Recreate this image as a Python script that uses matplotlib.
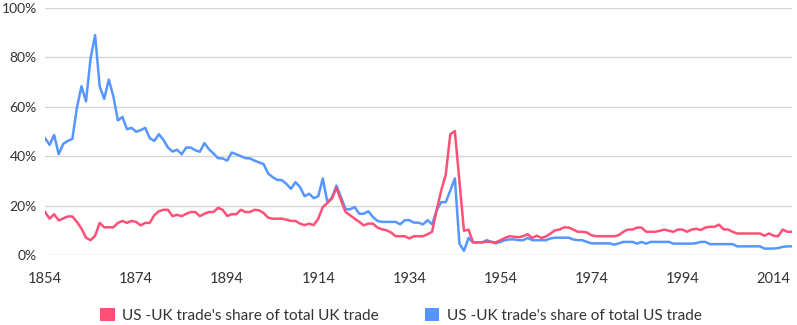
import matplotlib
matplotlib.use("Agg")
import matplotlib.pyplot as plt
from matplotlib.patches import Patch
import numpy as np

years = np.arange(1854, 2019)

# US-UK trade's share of total UK trade (%)
uk_share = [
    17.4, 14.7, 16.5, 14.0, 14.8, 15.6, 15.6, 13.4, 10.7, 7.0,   # 1854-1863
    6.0, 7.8, 13.0, 11.2, 11.2, 11.2, 13.0, 13.8, 13.0, 13.8,    # 1864-1873
    13.4, 12.0, 13.0, 13.0, 16.1, 17.7, 18.3, 18.3, 15.7, 16.3,  # 1874-1883
    15.7, 16.7, 17.4, 17.4, 15.7, 16.7, 17.4, 17.4, 19.1, 18.3,  # 1884-1893
    15.8, 16.5, 16.5, 18.3, 17.4, 17.4, 18.3, 18.1, 17.0, 15.1,  # 1894-1903
    14.7, 14.7, 14.7, 14.3, 13.8, 13.8, 12.7, 12.1, 12.7, 12.1,  # 1904-1913
    14.7, 19.4, 21.0, 22.8, 27.2, 22.1, 17.4, 16.1, 14.7, 13.4,  # 1914-1923
    12.0, 12.7, 12.7, 11.1, 10.4, 10.0, 9.1, 7.6, 7.6, 7.6,      # 1924-1933
    6.7, 7.6, 7.6, 7.6, 8.4, 9.4, 18.1, 26.1, 32.5, 48.9,        # 1934-1943
    50.2, 30.0, 9.8, 10.3, 5.1, 5.1, 5.1, 5.4, 5.3, 5.1,         # 1944-1953
    6.0, 6.9, 7.6, 7.4, 7.2, 7.6, 8.4, 6.9, 7.8, 6.9,            # 1954-1963
    7.5, 8.7, 10.0, 10.3, 11.2, 11.1, 10.3, 9.4, 9.4, 9.1,       # 1964-1973
    8.0, 7.6, 7.6, 7.6, 7.6, 7.6, 8.0, 9.4, 10.3, 10.3,          # 1974-1983
    11.1, 11.1, 9.4, 9.4, 9.4, 9.8, 10.3, 9.8, 9.4, 10.3,        # 1984-1993
    10.3, 9.4, 10.3, 10.6, 10.1, 11.1, 11.4, 11.4, 12.3, 10.4,   # 1994-2003
    10.3, 9.4, 8.7, 8.7, 8.7, 8.7, 8.7, 8.7, 7.8, 8.7,           # 2004-2013
    7.8, 7.6, 10.3, 9.4, 9.4,                                    # 2014-2018
]

# US-UK trade's share of total US trade (%)
us_share = [
    47.3, 44.6, 48.6, 40.8, 45.0, 46.2, 47.0, 59.6, 68.3, 62.2,  # 1854-1863
    79.6, 89.0, 68.3, 63.2, 71.0, 64.3, 54.5, 55.9, 50.9, 51.5,  # 1864-1873
    49.9, 50.5, 51.5, 47.3, 46.2, 48.9, 46.6, 43.5, 41.9, 42.6,  # 1874-1883
    40.8, 43.5, 43.5, 42.4, 41.8, 45.3, 42.8, 41.1, 39.2, 39.1,  # 1884-1893
    38.2, 41.5, 40.8, 40.0, 39.2, 39.1, 38.2, 37.5, 36.8, 33.0,  # 1894-1903
    31.5, 30.4, 30.3, 28.8, 26.8, 29.5, 27.5, 23.8, 24.8, 23.0,  # 1904-1913
    23.8, 31.0, 21.4, 23.2, 28.1, 23.4, 18.5, 18.5, 19.4, 16.7,  # 1914-1923
    16.7, 17.7, 15.4, 13.8, 13.4, 13.4, 13.4, 13.4, 12.4, 14.1,  # 1924-1933
    14.1, 13.1, 13.1, 12.4, 14.1, 12.4, 18.1, 21.4, 21.4, 26.1,  # 1934-1943
    31.0, 4.6, 1.7, 6.9, 5.1, 5.1, 5.1, 6.0, 5.3, 4.7,           # 1944-1953
    5.3, 6.0, 6.3, 6.3, 6.0, 6.0, 6.9, 6.0, 6.0, 6.0,            # 1954-1963
    6.0, 6.7, 7.0, 7.0, 7.0, 7.0, 6.3, 6.0, 6.0, 5.3,            # 1964-1973
    4.7, 4.7, 4.7, 4.7, 4.7, 4.2, 4.7, 5.3, 5.3, 5.3,            # 1974-1983
    4.6, 5.3, 4.6, 5.3, 5.3, 5.3, 5.3, 5.3, 4.6, 4.6,            # 1984-1993
    4.6, 4.6, 4.6, 4.8, 5.3, 5.3, 4.4, 4.4, 4.4, 4.4,            # 1994-2003
    4.4, 4.4, 3.5, 3.5, 3.5, 3.5, 3.5, 3.5, 2.6, 2.6,            # 2004-2013
    2.6, 2.8, 3.3, 3.5, 3.5,                                     # 2014-2018
]

series_labels = ["US -UK trade's share of total UK trade",
                 "US -UK trade's share of total US trade"]
x_ticks = [1854, 1874, 1894, 1914, 1934, 1954, 1974, 1994, 2014]
y_ticks = [0, 20, 40, 60, 80, 100]

red = "#ff5078"
blue = "#5597ff"
text_col = "#333333"

plt.rcParams['font.family'] = ['Lato', 'DejaVu Sans']

fig = plt.figure(figsize=(7.97, 3.25), dpi=100)
ax = fig.add_axes([0.0565, 0.2154, 0.937, 0.7600])

ax.plot(years, uk_share, color=red, lw=1.8, solid_joinstyle='round', zorder=3)
ax.plot(years, us_share, color=blue, lw=1.8, solid_joinstyle='round', zorder=2)

ax.set_xlim(1854, 2018)
ax.set_ylim(0, 100)
ax.set_xticks(x_ticks)
ax.set_xticklabels([str(t) for t in x_ticks])
ax.set_yticks(y_ticks)
ax.set_yticklabels([f"{t}%" for t in y_ticks])
ax.tick_params(axis='x', length=0, labelsize=10.5, colors=text_col, pad=12)
ax.tick_params(axis='y', length=0, labelsize=10, colors=text_col, pad=6)
ax.grid(axis='y', color='#d6d6d6', lw=1)
ax.set_axisbelow(True)
for s in ax.spines.values():
    s.set_visible(False)

handles = [Patch(facecolor=red), Patch(facecolor=blue)]
fig.legend(handles, series_labels, loc='lower center', bbox_to_anchor=(0.503, -0.035),
           ncol=2, frameon=False, fontsize=11, handlelength=0.95, handleheight=0.95,
           handletextpad=0.5, columnspacing=3.0, labelcolor=text_col)

fig.savefig("out.png", dpi=100)
